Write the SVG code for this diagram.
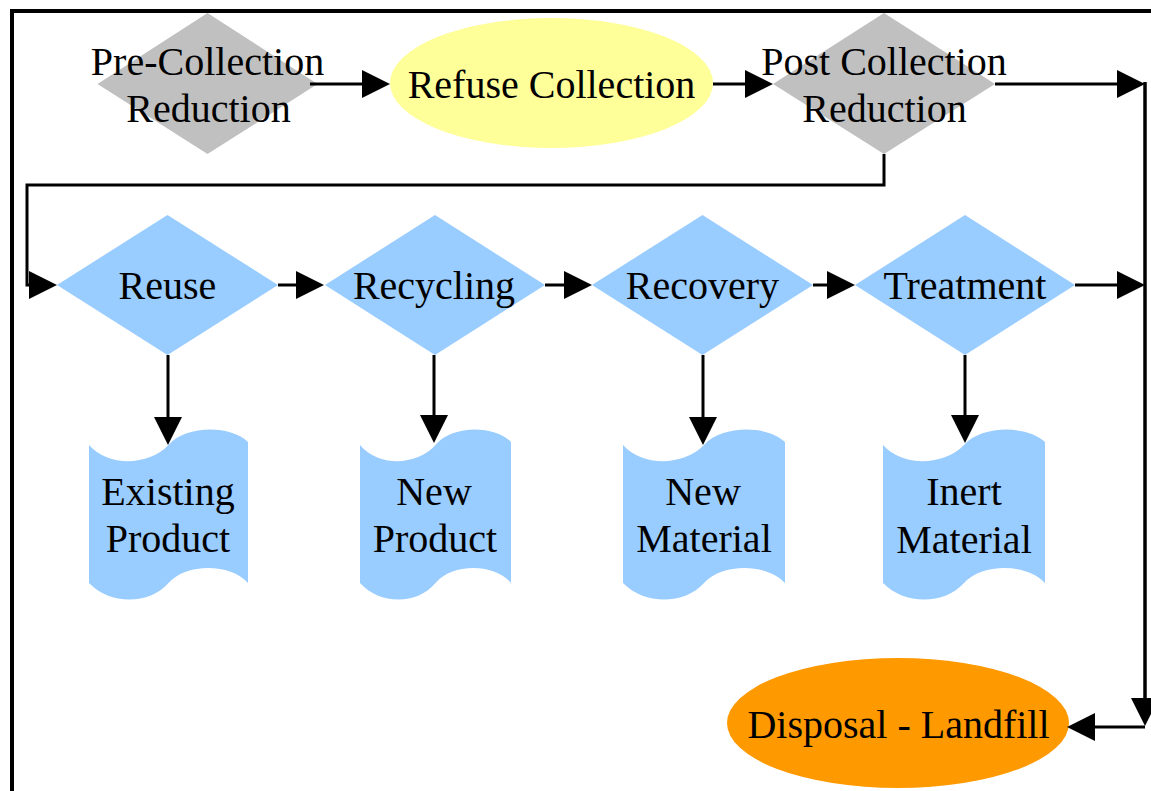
<svg xmlns="http://www.w3.org/2000/svg" width="1151" height="791" viewBox="0 0 1151 791">
<style>
text{font-family:"Liberation Serif","Times New Roman",serif;font-size:40px;fill:#000;text-anchor:middle}
.gray{fill:#C0C0C0}
.blue{fill:#99CCFF}
.conn{fill:none;stroke:#000;stroke-width:3}
.frame{fill:none;stroke:#000;stroke-width:4}
</style>
<defs>
<marker id="arr" markerUnits="userSpaceOnUse" markerWidth="28" markerHeight="28" refX="18" refY="14" orient="auto" overflow="visible">
<path d="M0,0 L28,14 L0,28 Z" fill="#000"/>
</marker>
</defs>
<g id="frame">
<path class="frame" d="M12,791 V11 H1151"/>
</g>
<g id="pre-collection">
<polygon class="gray" points="207.5,13 317.5,84 207.5,154 97.5,84"/>
<text x="207.5" y="75">Pre-Collection</text>
<text x="208.5" y="122">Reduction</text>
</g>
<g id="refuse-collection">
<ellipse cx="551.5" cy="83" rx="161.5" ry="65" fill="#FFFF99"/>
<text x="551.5" y="98">Refuse Collection</text>
</g>
<g id="post-collection">
<polygon class="gray" points="884,13 995,84 884,154 773,84"/>
<text x="884" y="75">Post Collection</text>
<text x="884.5" y="122">Reduction</text>
</g>
<g id="reuse">
<polygon class="blue" points="167.5,215 278,285 167.5,355 57,285"/>
<text x="167.5" y="299">Reuse</text>
</g>
<g id="recycling">
<polygon class="blue" points="435,215 545,285 435,355 325,285"/>
<text x="434" y="299">Recycling</text>
</g>
<g id="recovery">
<polygon class="blue" points="702.5,215 813,285 702.5,355 592,285"/>
<text x="702.5" y="299">Recovery</text>
</g>
<g id="treatment">
<polygon class="blue" points="965,215 1075,285 965,355 855,285"/>
<text x="965" y="299">Treatment</text>
</g>
<g id="existing-product">
<path class="blue" d="M89,445 C109.7,468 149.4,465 168.5,445 C186,425 230.5,425 248,442 L248,583 C230.5,563 186,563 168.5,583 C149.4,605 109.7,605 89,583 Z"/>
<text x="168" y="505">Existing</text>
<text x="168" y="552">Product</text>
</g>
<g id="new-product">
<path class="blue" d="M360,445 C379.6,468 417.4,465 435.5,445 C452.1,425 494.4,425 511,442 L511,583 C494.4,563 452.1,563 435.5,583 C417.4,605 379.6,605 360,583 Z"/>
<text x="434" y="505">New</text>
<text x="435" y="552">Product</text>
</g>
<g id="new-material">
<path class="blue" d="M623,445 C644.1,468 684.6,465 704,445 C721.8,425 767.2,425 785,442 L785,583 C767.2,563 721.8,563 704,583 C684.6,605 644.1,605 623,583 Z"/>
<text x="703" y="505">New</text>
<text x="704" y="552">Material</text>
</g>
<g id="inert-material">
<path class="blue" d="M883,445 C904.1,468 944.6,465 964,445 C981.8,425 1027.2,425 1045,442 L1045,583 C1027.2,563 981.8,563 964,583 C944.6,605 904.1,605 883,583 Z"/>
<text x="964" y="505">Inert</text>
<text x="964" y="553">Material</text>
</g>
<g id="disposal-landfill">
<ellipse cx="898" cy="723" rx="171" ry="65" fill="#FF9900"/>
<text x="898.5" y="738">Disposal - Landfill</text>
</g>
<g id="connectors">
<path class="conn" d="M310,84 H380" marker-end="url(#arr)"/>
<path class="conn" d="M713,84 H763" marker-end="url(#arr)"/>
<path class="conn" d="M995,84 H1135" marker-end="url(#arr)"/>
<path class="conn" d="M884,154 V185 H27 V285 H47" marker-end="url(#arr)"/>
<path class="conn" d="M278,285 H314" marker-end="url(#arr)"/>
<path class="conn" d="M545,285 H582" marker-end="url(#arr)"/>
<path class="conn" d="M813,285 H845" marker-end="url(#arr)"/>
<path class="conn" d="M1075,285 H1135" marker-end="url(#arr)"/>
<path class="conn" d="M168,355 V435" marker-end="url(#arr)"/>
<path class="conn" d="M434,355 V433" marker-end="url(#arr)"/>
<path class="conn" d="M703,355 V435" marker-end="url(#arr)"/>
<path class="conn" d="M965,355 V433" marker-end="url(#arr)"/>
<path class="conn" d="M1145,82 V716" marker-end="url(#arr)" style="stroke-width:3.5"/>
<path class="conn" d="M1145,727 H1077" marker-end="url(#arr)"/>
</g>
</svg>
